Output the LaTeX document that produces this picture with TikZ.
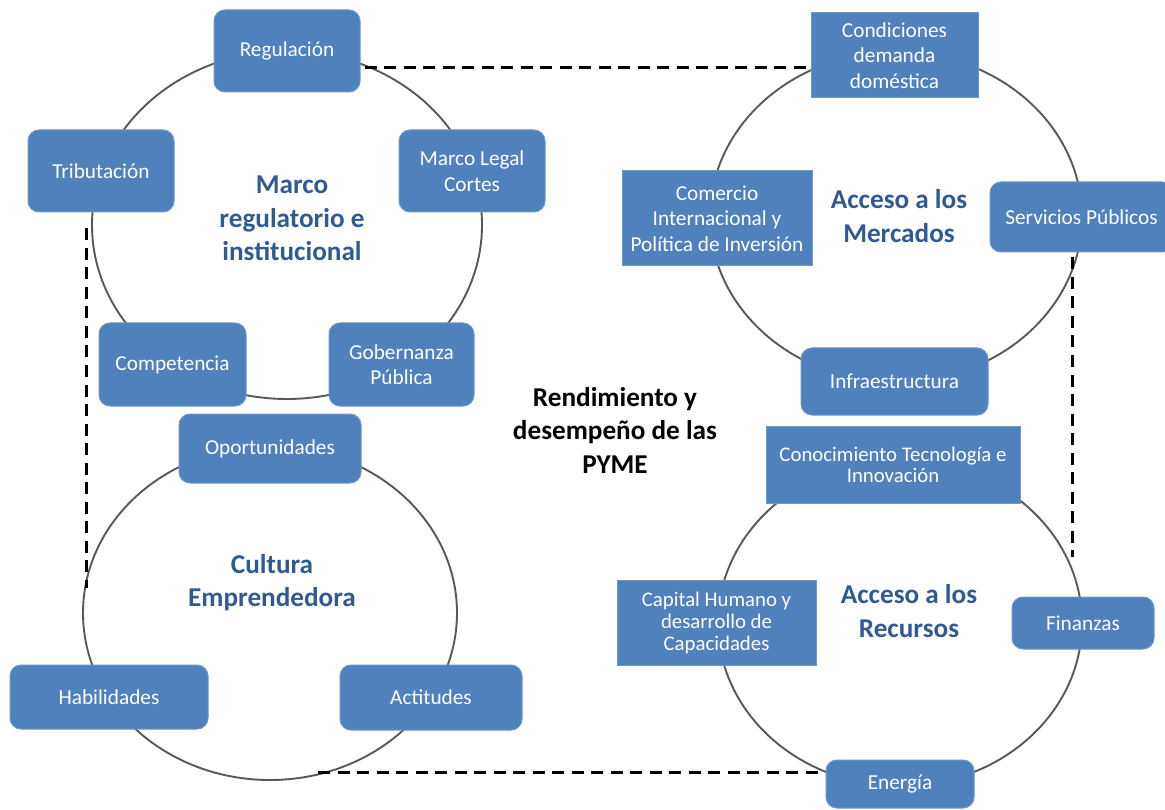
\documentclass[tikz,border=0pt]{standalone}
\usepackage{fontspec}
\setmainfont{Carlito}
\usetikzlibrary{shapes.geometric}
\definecolor{boxblue}{HTML}{4F81BD}
\definecolor{boxedge}{HTML}{6E96C9}
\definecolor{titleblue}{HTML}{2F5A94}
\definecolor{ringgray}{HTML}{585858}
\begin{document}
\begin{tikzpicture}[x=1pt,y=-1pt,
  rbox/.style={draw=boxedge, line width=1pt, fill=boxblue, rounded corners=11pt, text=white, align=center, inner sep=0pt, font=\fontsize{21.3}{25.5}\selectfont},
  sbox/.style={rbox, rounded corners=0pt},
  ring/.style={draw=ringgray, line width=1.9pt, ellipse, inner sep=0pt},
  ttl/.style={text=titleblue, font=\fontsize{27.2}{33.5}\selectfont\bfseries, align=center, inner sep=0pt},
  dashlink/.style={draw=black, line width=3pt, dash pattern=on 12pt off 7.5pt}
]
\useasboundingbox (0,0) rectangle (1165,810);
\fill[white] (0,0) rectangle (1165,810);

% rings
\node[ring, minimum width=390pt, minimum height=348pt] (ringTL) at (287,225) {};
\node[ring, minimum width=372pt, minimum height=330pt] (ringTR) at (896,217) {};
\node[ring, minimum width=374pt, minimum height=334pt] (ringBL) at (270,613) {};
\node[ring, minimum width=364pt, minimum height=326pt] (ringBR) at (900,623) {};

% boxes: Marco regulatorio
\node[rbox, minimum width=146pt, minimum height=82pt] (reg) at (287,51) {Regulación};
\node[rbox, minimum width=146pt, minimum height=82pt] (trib) at (101,171) {Tributación};
\node[rbox, minimum width=146pt, minimum height=82pt] (legal) at (472,171) {Marco Legal\\Cortes};
\node[rbox, minimum width=147pt, minimum height=83pt] (comp) at (172.5,364.5) {Competencia};
\node[rbox, minimum width=145pt, minimum height=83pt] (gob) at (401.5,364.5) {Gobernanza\\Pública};

% boxes: Cultura emprendedora
\node[rbox, minimum width=182pt, minimum height=69pt] (opor) at (270,448.5) {Oportunidades};
\node[rbox, minimum width=198pt, minimum height=64pt] (hab) at (109,697) {Habilidades};
\node[rbox, minimum width=182pt, minimum height=65pt] (act) at (431,697.5) {Actitudes};

% boxes: Acceso a los mercados
\node[sbox, minimum width=167pt, minimum height=85pt] (cond) at (894.5,55.5) {Condiciones\\demanda\\doméstica};
\node[sbox, minimum width=190pt, minimum height=95pt] (com) at (717,218.5) {Comercio\\Internacional y\\Política de Inversión};
\node[rbox, minimum width=183pt, minimum height=70pt] (serv) at (1081.5,217) {Servicios Públicos};
\node[rbox, minimum width=187pt, minimum height=67pt] (infra) at (894.5,381.5) {Infraestructura};

% boxes: Acceso a los recursos
\node[sbox, minimum width=254pt, minimum height=77pt, font=\fontsize{20.8}{21}\selectfont] (cono) at (893,464.5) {Conocimiento Tecnología e\\Innovación};
\node[sbox, minimum width=199pt, minimum height=85pt, font=\fontsize{20.8}{22}\selectfont] (cap) at (716.5,622.5) {Capital Humano y\\desarrollo de\\Capacidades};
\node[rbox, minimum width=142pt, minimum height=52pt] (fin) at (1083,623) {Finanzas};
\node[rbox, minimum width=148pt, minimum height=48pt] (ener) at (900,784) {Energía};

% titles
\node[ttl] (tTL) at (292,218.3) {Marco\\regulatorio e\\institucional};
\node[ttl] (tTR) at (899,216.3) {Acceso a los\\Mercados};
\node[ttl] (tBL) at (272,582.8) {Cultura\\Emprendedora};
\node[ttl] (tBR) at (909,611.3) {Acceso a los\\Recursos};
\node[ttl, text=black] (tC) at (615,430) {Rendimiento y\\desempeño de las\\PYME};

% dashed frame
\coordinate (topL) at ([shift={(4,17)}]reg.east);
\coordinate (topR) at ([xshift=-5pt]topL -| cond.west);
\draw[dashlink] (topL) -- (topR);

\coordinate (leftT) at ([shift={(-15,16)}]trib.south);
\coordinate (leftB) at (86,588);
\draw[dashlink] (leftT) -- (leftB);

\coordinate (rightT) at ([shift={(-9,5)}]serv.south);
\coordinate (rightB) at (1072.5,557);
\draw[dashlink] (rightT) -- (rightB);

\coordinate (botR) at ([shift={(-5,-12)}]ener.west);
\coordinate (botL) at (318,772);
\draw[dashlink] (botL) -- (botR);
\end{tikzpicture}
\end{document}
